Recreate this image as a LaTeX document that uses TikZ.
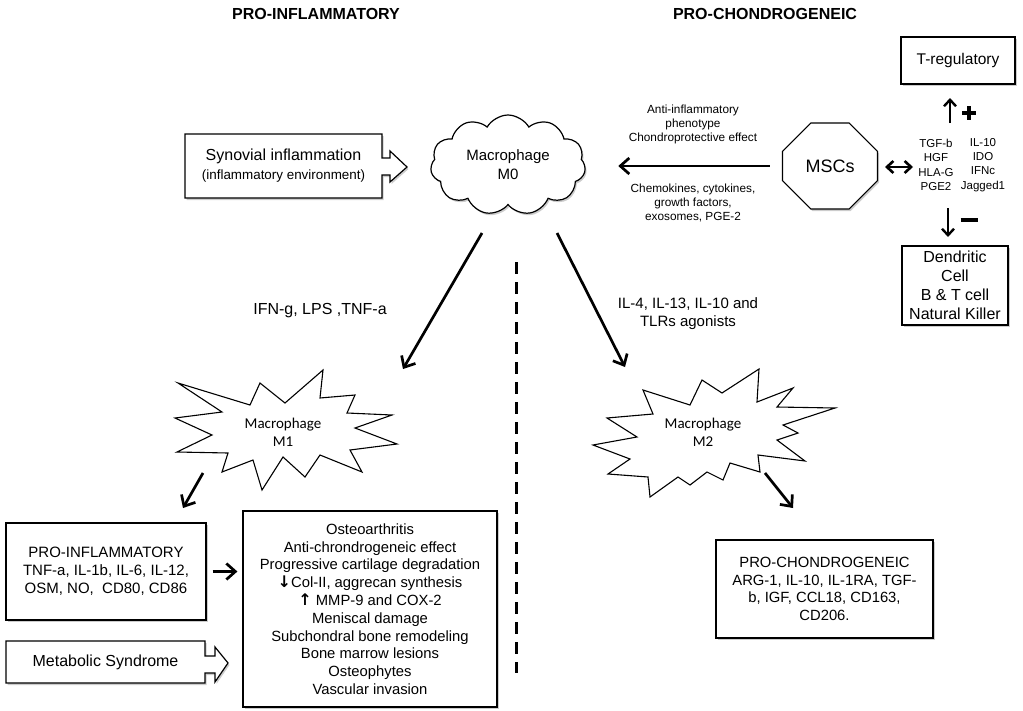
\documentclass[tikz,border=0pt]{standalone}
\usepackage{fontspec}
\setmainfont{Liberation Sans}
\newfontfamily\calfont{Carlito}
\newfontfamily\symfont{DejaVu Sans}
\usetikzlibrary{arrows.meta, calc, positioning, shapes.geometric, shapes.symbols, shapes.misc, shadows}

\newcommand{\fsz}[2]{\fontsize{#1}{#2}\selectfont}

\tikzset{
    shadowed/.style={drop shadow={shadow xshift=1.5pt, shadow yshift=-2pt, opacity=0.2, fill=black}},
    box/.style={draw, fill=white, line width=1.2pt, align=center, inner sep=2pt, shadowed},
    outline/.style={draw, fill=white, line width=1.2pt, shadowed},
    arr/.style={line width=2.7pt, -{Straight Barb[length=9pt, width=16pt]}},
    thinarr/.style={line width=2.4pt, -{Straight Barb[length=6.5pt, width=12pt]}},
    starline/.style={draw, fill=white, line width=1.1pt, line join=miter},
    startext/.style={align=center, font=\calfont\fsz{15}{18}},
}

\begin{document}
\begin{tikzpicture}[x=1pt, y=-1pt]
    \useasboundingbox (0,0) rectangle (1023,710);

    % headings
    \node[font=\bfseries\fsz{16}{18}] (hinf) at (316,14) {PRO-INFLAMMATORY};
    \node[font=\bfseries\fsz{16}{18}] (hchon) at (765,14) {PRO-CHONDROGENEIC};

    % top row
    \node[cloud, outline, cloud puffs=11, cloud puff arc=120, aspect=1.6,
        minimum width=155pt, minimum height=100pt, align=center,
        font=\fsz{15}{19}] (m0) at (508,165) {Macrophage\\M0};

    \path[outline] (185,134) -- (382,134) -- ++(0,24) -- ++(8,0)
        -- ++(0,-7) -- ++(17,16) -- ++(-17,15) -- ++(0,-7) -- ++(-8,0)
        -- (382,198) -- (185,198) -- cycle;
    \node[align=center, font=\fsz{13.4}{19}] (syn) at (283.5,166)
        {{\fsz{16}{19}Synovial inflammation}\\(inflammatory environment)};

    \node[chamfered rectangle, outline, chamfered rectangle xsep=22pt,
        chamfered rectangle ysep=22pt, minimum width=95pt, minimum height=86pt, inner sep=0pt,
        font=\fsz{18}{20}] (msc) at (830,166) {MSCs};

    \node[align=center, font=\fsz{11.8}{14}] (anti) at (693,124)
        {Anti-inflammatory\\phenotype\\Chondroprotective effect};
    \node[align=center, font=\fsz{11.8}{14}] (chemo) at (693,203)
        {Chemokines, cytokines,\\growth factors,\\exosomes, PGE-2};
    \draw[arr, shorten <=12pt, shorten >=33pt] (msc.west) -- (m0.east |- msc.west);

    % mediators
    \node[align=center, font=\fsz{11.5}{14.3}] (medl) at (936,165) {TGF-b\\HGF\\HLA-G\\PGE2};
    \node[align=center, font=\fsz{11.5}{14.3}] (medr) at (983,165) {IL-10\\IDO\\IFNc\\Jagged1};
    \coordinate (dbl1) at (885,167);
    \coordinate (dbl2) at (913,167);
    \draw[line width=2.6pt, {Straight Barb[length=6.5pt, width=12pt]}-{Straight Barb[length=6.5pt, width=12pt]}] (dbl1) -- (dbl2);

    \node[box, minimum width=114pt, minimum height=47pt, font=\fsz{15.5}{18}] (treg) at (958,60.5) {T-regulatory};
    \node[box, minimum width=106pt, minimum height=79pt, font=\fsz{16}{19}] (dend) at (955,285.5)
        {Dendritic\\Cell\\B \& T cell\\Natural Killer};

    \coordinate (up1) at (950,123);
    \coordinate (up2) at (950,98);
    \draw[thinarr] (up1) -- (up2);
    \coordinate (dn1) at (948,208);
    \coordinate (dn2) at (948,237);
    \draw[thinarr] (dn1) -- (dn2);

    % plus and minus
    \coordinate (plus) at (969,113);
    \draw[line width=4.5pt] ($(plus)+(-7,0)$) -- ($(plus)+(7,0)$);
    \draw[line width=4.5pt] ($(plus)+(0,-7)$) -- ($(plus)+(0,7)$);
    \coordinate (minus) at (969,220);
    \draw[line width=4.5pt] ($(minus)+(-8.5,0)$) -- ($(minus)+(8.5,0)$);

    % polarisation
    \path[starline] (178,383) -- (250,405) -- (260,383) -- (285,403) -- (323,370) -- (320,398)
        -- (355,395) -- (347,413) -- (392,415) -- (355,428) -- (397,444) -- (350,450)
        -- (362,472) -- (320,455) -- (305,477) -- (283,457) -- (262,490) -- (253,460)
        -- (222,472) -- (228,453) -- (177,452) -- (212,435) -- (175,418) -- (222,412) -- cycle;
    \node[startext] (m1) at (283,432) {Macrophage\\M1};

    \path[starline] (643,390) -- (690,405) -- (702,380) -- (722,393) -- (759,369) -- (757,402)
        -- (793,388) -- (777,407) -- (835,408) -- (783,425) -- (798,433) -- (777,440)
        -- (805,461) -- (758,455) -- (760,472) -- (730,463) -- (723,480) -- (707,472)
        -- (690,485) -- (678,477) -- (650,497) -- (648,477) -- (608,474) -- (630,459)
        -- (593,445) -- (637,437) -- (607,418) -- (653,414) -- cycle;
    \node[startext] (m2) at (703,432) {Macrophage\\M2};

    \coordinate (m0l) at (482,233);
    \coordinate (m1in) at (403,369);
    \coordinate (m0r) at (557,233);
    \coordinate (m2in) at (625,367);
    \draw[arr] (m0l) -- (m1in);
    \draw[arr] (m0r) -- (m2in);

    \node[font=\fsz{16}{18}] (ifn) at (320,311) {IFN-g, LPS ,TNF-a};
    \node[align=center, font=\fsz{15}{18}] (il4) at (688,314) {IL-4, IL-13, IL-10 and\\TLRs agonists};

    \draw[line width=3pt, dash pattern=on 12pt off 8pt] (516,262) -- (516,673);

    % bottom row
    \node[box, minimum width=200pt, minimum height=97pt, font=\fsz{15}{18}] (proinf) at (106,571.5)
        {PRO-INFLAMMATORY\\TNF-a, IL-1b, IL-6, IL-12,\\OSM, NO,\ \ CD80, CD86};
    \node[box, minimum width=254pt, minimum height=196pt, font=\fsz{14.8}{17.8}] (oa) at (370,609)
        {Osteoarthritis\\Anti-chrondrogeneic effect\\Progressive cartilage degradation\\
         {\symfont\bfseries\fsz{16}{17.8}↓}Col-II, aggrecan synthesis\\{\symfont\bfseries\fsz{16}{17.8}↑} MMP-9 and COX-2\\
         Meniscal damage\\Subchondral bone remodeling\\Bone marrow lesions\\Osteophytes\\Vascular invasion};
    \path[outline] (6,641) -- (205,641) -- ++(0,15) -- ++(10,0)
        -- ++(0,-9) -- ++(13,16) -- ++(-13,19) -- ++(0,-9) -- ++(-10,0)
        -- (205,683) -- (6,683) -- cycle;
    \node[font=\fsz{16}{18}] (meta) at (105.5,662) {Metabolic Syndrome};
    \node[box, minimum width=217pt, minimum height=98pt, font=\fsz{14.8}{17.5}] (prochon) at (824.5,589)
        {PRO-CHONDROGENEIC\\ARG-1, IL-10, IL-1RA, TGF-\\b, IGF, CCL18, CD163,\\CD206.};

    \coordinate (m1out) at (203,473);
    \coordinate (pin) at (183,508);
    \draw[arr] (m1out) -- (pin);
    \draw[arr, shorten <=6pt, shorten >=5pt] (proinf.east) -- (oa.west |- proinf.east);
    \coordinate (m2out) at (765,473);
    \coordinate (pcin) at (793,508);
    \draw[arr] (m2out) -- (pcin);
\end{tikzpicture}
\end{document}
